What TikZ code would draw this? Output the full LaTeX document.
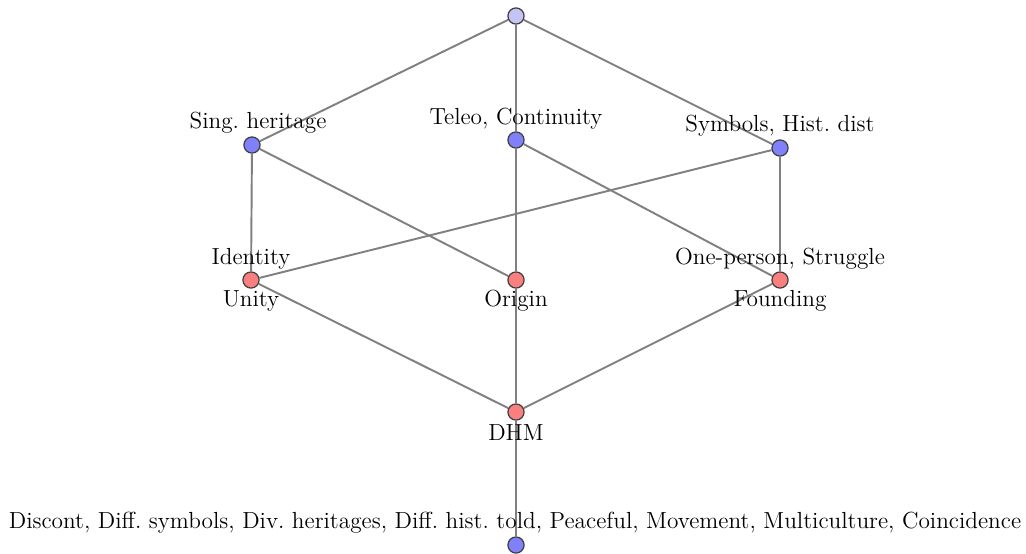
\documentclass[tikz,border=0pt]{standalone}
\begin{document}
\begin{tikzpicture}[x=0.2mm,y=-0.2mm,
  concept/.style={circle,draw=black!75,line width=0.7pt,minimum size=9.2pt,inner sep=0pt},
  topc/.style={concept,fill={rgb,255:red,196;green,196;blue,246}},
  attr/.style={concept,fill={rgb,255:red,128;green,128;blue,250}},
  obj/.style={concept,fill={rgb,255:red,250;green,128;blue,128}},
  edge/.style={draw={rgb,255:red,128;green,128;blue,128},line width=1.1pt},
  lab/.style={font=\fontsize{13.25}{15.9}\selectfont,inner sep=1pt}]
\useasboundingbox (0,0) rectangle (1026,553);
% lattice elements
\node[topc] (top) at (516,16) {};
\node[attr] (sing) at (252,145) {};
\node[attr] (teleo) at (516,140) {};
\node[attr] (symb) at (780,148) {};
\node[obj] (ident) at (251,280) {};
\node[obj] (orig) at (516,280) {};
\node[obj] (found) at (780,280) {};
\node[obj] (dhm) at (516,412) {};
\node[attr] (bot) at (516,545) {};
% covering relation
\draw[edge] (top) -- (sing);
\draw[edge] (top) -- (teleo);
\draw[edge] (top) -- (symb);
\draw[edge] (sing) -- (ident);
\draw[edge] (sing) -- (orig);
\draw[edge] (teleo) -- (orig);
\draw[edge] (teleo) -- (found);
\draw[edge] (symb) -- (ident);
\draw[edge] (symb) -- (found);
\draw[edge] (ident) -- (dhm);
\draw[edge] (orig) -- (dhm);
\draw[edge] (found) -- (dhm);
\draw[edge] (dhm) -- (bot);
% labels
\node[lab] (lsing) at (258,123) {Sing.\ heritage};
\node[lab] (lteleo) at (516,119) {Teleo, Continuity};
\node[lab] (lsymb) at (780,126) {Symbols, Hist.\ dist};
\node[lab] (lident) at (251,259) {Identity};
\node[lab] (lunity) at (251,301) {Unity};
\node[lab] (lorig) at (516,301) {Origin};
\node[lab] (lstrug) at (780,259) {One-person, Struggle};
\node[lab] (lfound) at (780,301) {Founding};
\node[lab] (ldhm) at (516,433) {DHM};
\node[lab] (lbot) at (515,523) {Discont, Diff.\ symbols, Div.\ heritages, Diff.\ hist.\ told, Peaceful, Movement, Multiculture, Coincidence};
\end{tikzpicture}
\end{document}
